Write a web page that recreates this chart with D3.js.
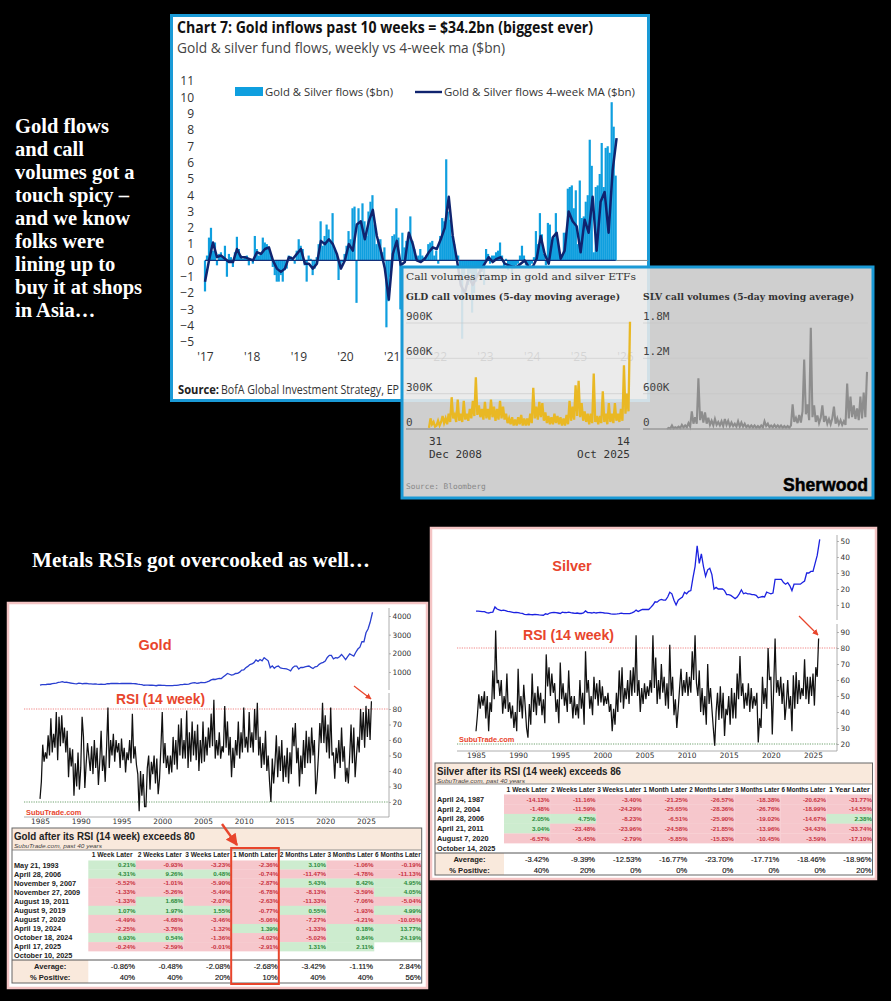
<!DOCTYPE html>
<html><head><meta charset="utf-8">
<style>html,body{margin:0;padding:0;background:#000}svg{display:block}</style>
<script src="https://cdn.jsdelivr.net/npm/d3@7/dist/d3.min.js"></script>
</head><body><svg id="c" width="891" height="1001"></svg>
<script>
// ---------- data: fund flows ($bn) ----------
const flowWeekly=[-1.9,.3,1.4,2,.6,1.1,-.3,.4,.5,.2,.9,-1,.4,.2,-.4,.5,1.45,.7,.3,.1,.2,.3,-.3,.1,-.2,1.5,.7,.3,.4,1.4,1.1,1,.7,.3,-.4,-.9,-1.3,-1.3,-.9,-1.3,-.6,-.5,.3,.25,.1,-.2,.6,1.3,.9,.7,-.3,-1.3,.3,.1,-.9,-.5,.2,1,2.4,.9,1.5,2.2,1.9,1.1,2.9,.7,.4,-1.2,-.3,-.1,.4,.9,1.8,1.3,3.2,3.3,-2.6,3.2,2.4,3.5,2.4,1.5,3,3.6,4,2.2,1,1.3,1.3,.5,.8,-4.1,-2.5,-1,1.5,1.6,3.2,1.4,-3,1.7,.8,1.2,1.5,2.7,1.2,.7,.2,.3,.7,.3,.2,.3,1,1.1,1.2,.3,.6,-.2,1.5,2.6,2.4,6.2,3,2.5,1.5,1,.3,.3,-.5,-4.8,-1,-.5,-1.5,-.8,-3.2,-2,-1.3,-.5,-1,-.7,-1.5,.7,.4,-.2,.3,.3,.5,.6,1.1,.3,-.4,.1,-.6,-.3,-.8,-.5,-.3,-.2,.3,.9,.3,-.3,-.4,-.3,-.2,.2,1.8,1,2.9,1.6,.4,-.3,2.3,2.2,1.2,1.4,2.9,1.2,.5,.3,1.7,1.7,4.4,4.5,4.6,3.2,4.3,1,4.9,2.6,2.7,3.6,4,7.4,5.8,.5,4.5,4.6,5.3,7.2,4.5,6.9,7,6.6,9.7,8.2,5.2];
const flowMA=[-1.3,0,1.1,.2,.3,.1,-.1,-.1,.7,.2,.2,.1,0,.5,.4,.7,.8,0,-.5,-.7,-.5,.2,.1,.4,.7,-.2,-.2,-.5,-.2,1.2,1,1.3,1,.4,-.5,0,1,.6,2.2,2.4,1.3,2.4,3.1,1.5,.6,-.5,-2.4,.4,1.2,-.3,-.1,1.7,1,0,-.1,.1,.5,.8,.7,1.3,2,3.9,1.5,.1,-1.5,-2,-1,-1.5,-1,-.6,-.2,.2,-.1,.1,.2,-.2,-.3,-.4,-.4,-.2,0,-.4,-.4,.1,1.5,.4,-.2,1.4,1.7,.1,.6,3,2.4,2.1,.5,2.5,1.7,3.9,.6,3.6,4.2,1.7,5.5,7.5];
const flowTicks=[-5,-4,-3,-2,-1,0,1,2,3,4,5,6,7,8,9,10,11];
const flowYears=[2017,2018,2019,2020,2021,2022,2023,2024,2025,2026];
// ---------- data: call volumes (thousands of contracts) ----------
const gldCalls=[10,90,40,60,20,30,70,30,60,110,50,90,40,130,60,270,90,120,60,250,70,130,60,240,80,130,70,170,90,240,110,440,120,200,100,170,80,230,90,170,80,250,100,190,70,170,80,240,90,190,80,130,50,90,40,100,30,80,30,100,40,120,30,90,30,90,30,130,50,350,90,190,80,230,100,220,70,140,50,110,40,100,40,130,50,110,40,100,30,90,30,120,40,240,70,190,80,370,110,410,100,220,70,150,60,130,40,130,50,470,60,110,40,110,50,320,60,130,40,220,60,130,50,220,70,130,60,170,70,540,130,300,150,910];
const slvCalls=[0,20,10,60,10,30,15,40,15,70,25,60,30,100,40,300,90,200,90,860,150,300,110,280,90,190,70,140,60,170,70,120,60,130,50,170,70,140,50,110,50,90,40,130,40,110,40,90,30,60,25,60,25,60,20,50,20,60,25,130,50,90,30,60,30,70,30,60,25,60,20,50,20,50,20,60,420,120,190,100,240,110,300,1180,250,420,150,1720,200,400,120,230,100,190,400,120,220,90,170,80,180,380,90,180,80,150,70,130,70,770,180,550,200,400,170,350,150,550,180,620,200,970];
const gldTicks=[0,300,600,900];
const slvTicks=[0,600,1200,1800];
// ---------- data: prices, quarterly from 1985 ----------
const goldPrice=[300,320,325,330,345,345,380,395,405,440,455,485,445,450,430,410,395,375,365,400,395,370,385,385,360,365,355,360,345,340,345,335,335,375,370,385,385,385,395,380,385,385,385,385,395,385,380,370,350,335,325,290,295,295,290,290,285,265,290,290,285,285,275,270,265,270,280,280,300,320,320,345,335,345,385,415,425,390,410,440,430,435,470,515,580,610,600,630,660,650,740,830,920,880,830,860,920,930,990,1100,1110,1230,1300,1400,1430,1500,1650,1570,1670,1600,1770,1680,1600,1230,1330,1200,1290,1320,1220,1190,1180,1170,1120,1060,1230,1320,1320,1160,1250,1240,1280,1300,1320,1250,1190,1280,1300,1410,1480,1520,1590,1780,1890,1890,1700,1770,1750,1820,1940,1810,1660,1820,1970,1910,1850,2060,2230,2330,2630,2620,3100,3300,3650,4200];
const silverPrice=[6.2,6.2,6,5.8,5.8,5.2,5,5.4,5.6,8.8,7.5,7,6.5,6.8,6.5,6,5.8,5.5,5.2,5.4,5.2,4.9,4.8,4.2,4,4.2,4,3.9,4.1,4,3.8,3.7,3.6,4.5,4.2,5,5.3,5.4,5.3,5,4.7,5.5,5.3,5.2,5.5,5.2,5,4.8,5,4.7,4.7,5,6.3,5.3,5.2,5,5.4,5,5.2,5.3,5.2,5,4.9,4.7,4.4,4.3,4.3,4.4,4.6,4.9,4.6,4.6,4.6,4.6,5.1,5.7,6.8,5.9,6.6,7.2,7.2,7.2,7.2,8.5,10,12,11.8,13,13.5,13,13,15,18,17,13,10,13,14,15,18,17,18.5,19,27,34,47,36,42,34,28,32,33,29,20,21,20,20,20,19,16.5,16.5,16,15,14,15,17,19.5,17,17.5,17,17,16.5,16.5,16,14.5,15,15.3,15,18,17.5,17,17.5,26,26,26,26,24,23,24,22,19,23,23,23,23,24,25,30,30,31,31,36,41,51];
// ---------- data: RSI (14 week), six readings a year from 1985 ----------
const goldRSI=[22,33,57,46,52,48,63,50,74,52,64,55,78,47,75,56,76,58,68,52,66,36,55,43,54,24,45,30,52,28,42,75,62,29,45,58,49,40,56,38,60,42,55,31,46,66,40,50,33,55,81,42,60,50,64,46,60,52,58,42,61,47,55,39,52,47,60,45,77,48,56,44,38,14,40,24,38,17,17,42,50,28,46,38,50,32,48,25,35,55,78,45,58,42,50,38,50,39,62,44,60,41,70,50,74,48,60,48,79,42,65,46,72,50,66,47,70,40,60,45,72,46,62,50,68,55,77,56,86,48,60,50,65,48,56,52,82,55,72,50,62,36,55,42,60,50,72,48,65,52,81,55,62,52,78,55,65,52,80,60,84,50,62,42,58,44,66,40,50,33,20,48,32,45,63,36,56,40,60,33,50,36,55,32,52,38,68,56,71,45,55,30,50,38,60,42,66,45,62,45,68,50,60,25,35,50,71,58,84,58,76,52,70,48,81,50,52,35,55,45,60,42,68,46,56,33,42,32,50,70,45,68,36,50,62,52,80,60,78,55,82,62,80,60,85];
const silverRSI=[28,38,51,42,50,44,53,36,50,28,46,40,66,48,91,58,60,50,60,39,50,42,64,40,46,36,44,30,40,28,67,40,50,36,57,44,30,24,45,32,64,40,52,38,56,44,52,38,48,33,76,56,68,50,64,52,58,40,48,33,71,48,58,44,52,40,66,45,50,36,50,38,45,36,60,42,52,32,78,52,60,42,50,38,62,48,58,44,60,46,56,44,50,45,52,40,45,28,42,32,52,40,66,46,68,42,55,48,60,45,66,50,68,52,88,50,60,40,55,45,58,48,56,50,60,52,88,55,74,45,60,48,70,52,62,44,58,42,82,50,62,38,48,30,42,55,67,50,60,52,65,50,62,52,78,60,88,58,50,66,40,55,38,50,32,70,45,55,42,30,19,40,52,35,56,36,52,25,42,38,50,32,55,36,52,36,64,48,75,50,58,42,52,44,58,40,55,42,50,44,52,21,36,30,62,45,55,42,80,60,62,26,55,86,52,60,50,62,45,58,35,45,60,42,50,28,63,42,65,45,60,48,55,50,73,48,62,45,62,50,64,44,68,62,86];
const yearTicks=[1985,1990,1995,2000,2005,2010,2015,2020,2025];
const goldPriceTicks=[1000,2000,3000,4000];
const silverPriceTicks=[10,20,30,40,50];
const rsiTicksGold=[20,30,40,50,60,70,80];
const rsiTicksSilver=[20,30,40,50,60,70,80,90];
// ---------- data: tables ----------
const goldCols=["1 Week Later","2 Weeks Later","3 Weeks Later","1 Month Later","2 Months Later","3 Months Later","6 Months Later"];
const goldDates=["May 21, 1993","April 28, 2006","November 9, 2007","November 27, 2009","August 19, 2011","August 9, 2019","August 7, 2020","April 19, 2024","October 18, 2024","April 17, 2025","October 10, 2025"];
const goldReturns=[[.21,-.93,-3.23,-2.36,3.10,-1.06,-.19],[4.31,9.26,.48,-.74,-11.47,-4.78,-11.13],[-5.52,-1.01,-5.90,-2.87,5.43,8.42,4.95],[-1.33,-5.26,-5.49,-6.78,-8.13,-3.59,4.05],[-1.33,1.68,-2.07,-2.63,-11.33,-7.06,-5.04],[1.07,1.97,1.55,-.77,.55,-1.93,4.99],[-4.49,-4.68,-3.46,-5.06,-7.27,-4.21,-10.05],[-2.25,-3.76,-1.32,1.39,-1.33,.18,13.77],[.93,.54,-1.36,-4.02,-5.02,.84,24.19],[-.24,-2.59,-.01,-2.91,1.31,2.11,null],[null,null,null,null,null,null,null]];
const goldAvg=[-.86,-.48,-2.08,-2.68,-3.42,-1.11,2.84];
const goldPos=[40,40,20,10,40,40,56];
const silverCols=["1 Week Later","2 Weeks Later","3 Weeks Later","1 Month Later","2 Months Later","3 Months Later","6 Months Later","1 Year Later"];
const silverDates=["April 24, 1987","April 2, 2004","April 28, 2006","April 21, 2011","August 7, 2020","October 14, 2025"];
const silverReturns=[[-14.13,-11.16,-3.40,-21.25,-26.57,-18.38,-20.62,-31.77],[-1.48,-11.59,-24.29,-25.65,-28.36,-26.76,-18.99,-14.55],[2.05,4.75,-8.23,-6.51,-25.90,-19.02,-14.67,2.38],[3.04,-23.48,-23.96,-24.58,-21.85,-13.96,-34.43,-33.74],[-6.57,-5.45,-2.79,-5.85,-15.83,-10.45,-3.59,-17.10],[null,null,null,null,null,null,null,null]];
const silverAvg=[-3.42,-9.39,-12.53,-16.77,-23.70,-17.71,-18.46,-18.96];
const silverPos=[40,20,0,0,0,0,0,20];
const introLines=["Gold flows","and call","volumes got a","touch spicy –","and we know","folks were","lining up to","buy it at shops","in Asia…"];

// ---------- drawing ----------
const svg=d3.select("#c");
const SANS="Liberation Sans, Arial, sans-serif", OPEN="'Open Sans', sans-serif",
      SERIF="Liberation Serif, serif", DSERIF="'DejaVu Serif', serif", MONO="'DejaVu Sans Mono', monospace";
const RED="#e8452c";
svg.append("rect").attr("width",891).attr("height",1001).attr("fill","#000");
const defs=svg.append("defs");
defs.append("marker").attr("id","ah").attr("viewBox","0 0 10 10").attr("refX",9).attr("refY",5)
  .attr("markerWidth",5).attr("markerHeight",5).attr("orient","auto")
  .append("path").attr("d","M0,0L10,5L0,10z").attr("fill",RED);
function T(g,x,y,s,o={}){
  const t=g.append("text").attr("x",x).attr("y",y).text(s)
    .attr("font-family",o.f||SANS).attr("font-size",o.s||10).attr("fill",o.c||"#000")
    .attr("font-weight",o.w||"normal").attr("text-anchor",o.a||"start");
  if(o.i)t.attr("font-style","italic");
  if(o.l)t.attr("textLength",o.l).attr("lengthAdjust","spacingAndGlyphs");
  return t;
}
// intro text
const intro=svg.append("g");
const introY=d3.scalePoint().domain(introLines).range([133,317]);
introLines.forEach(s=>T(intro,15,introY(s),s,{f:SERIF,s:20.5,w:"bold",c:"#fff"}));
T(intro,32,567,"Metals RSIs got overcooked as well…",{f:SERIF,s:20.5,w:"bold",c:"#fff",l:338});

// ---- Panel 1: BofA
const p1=svg.append("g");
p1.append("rect").attr("x",171.5).attr("y",15.5).attr("width",477).attr("height",385).attr("fill","#fff").attr("stroke","#1a9ad6").attr("stroke-width",3);
T(p1,177,33,"Chart 7: Gold inflows past 10 weeks = $34.2bn (biggest ever)",{f:OPEN,s:16,w:700,c:"#111",l:416});
T(p1,177,53,"Gold & silver fund flows, weekly vs 4-week ma ($bn)",{f:OPEN,s:14,c:"#444",l:328});
const fx=d3.scaleLinear().domain([2017,2026]).range([205,625]);
const fy=d3.scaleLinear().domain([-5,11]).range([342,81]);
const fIdx=d3.scaleLinear().domain([0,flowWeekly.length-1]).range([2017,2025.8]);
const mIdx=d3.scaleLinear().domain([0,flowMA.length-1]).range([2017,2025.82]);
p1.append("line").attr("x1",fx(2017)).attr("x2",648).attr("y1",fy(0)).attr("y2",fy(0)).attr("stroke","#888");
p1.append("g").selectAll("rect").data(flowWeekly).join("rect")
  .attr("x",(d,i)=>fx(fIdx(i))-1.1).attr("width",2.2)
  .attr("y",d=>Math.min(fy(d),fy(0))).attr("height",d=>Math.abs(fy(d)-fy(0))).attr("fill","#0f9fdf");
p1.append("line").attr("x1",fx(2017)).attr("x2",fx(2025.8)).attr("y1",fy(0)).attr("y2",fy(0)).attr("stroke","#12307a").attr("stroke-width",1.2);
p1.append("path").datum(flowMA).attr("fill","none").attr("stroke","#10246f").attr("stroke-width",2.5)
  .attr("stroke-linejoin","round").attr("d",d3.line().x((d,i)=>fx(mIdx(i))).y(d=>fy(d)));
const fAxis=p1.append("g").attr("transform","translate(194,0)").call(d3.axisLeft(fy).tickValues(flowTicks).tickSize(0).tickPadding(0).tickFormat(d3.format("d")));
fAxis.select(".domain").remove();
fAxis.selectAll("text").attr("font-family",OPEN).attr("font-size",12).attr("fill","#333");
const fxAxis=p1.append("g").attr("transform","translate(0,352)").call(d3.axisBottom(fx).tickValues(flowYears).tickSize(0).tickPadding(0).tickFormat(d=>"'"+String(d).slice(2)));
fxAxis.select(".domain").remove();
fxAxis.selectAll("text").attr("font-family",OPEN).attr("font-size",12).attr("fill","#333");
p1.append("rect").attr("x",235).attr("y",87).attr("width",28).attr("height",9).attr("fill","#0f9fdf");
T(p1,265,96,"Gold & Silver flows ($bn)",{f:OPEN,s:11.5,c:"#333",l:128});
p1.append("line").attr("x1",415).attr("x2",442).attr("y1",92).attr("y2",92).attr("stroke","#10246f").attr("stroke-width",2.4);
T(p1,444,96,"Gold & Silver flows 4-week MA ($bn)",{f:OPEN,s:11.5,c:"#333",l:191});
T(p1,178,394,"Source:",{f:OPEN,s:13,w:700,c:"#222",l:41});
T(p1,221,394,"BofA Global Investment Strategy, EP",{f:OPEN,s:13,c:"#333",l:178});

// ---- Panel 2: Sherwood
const p2=svg.append("g");
p2.append("rect").attr("x",402).attr("y",267).attr("width",471).attr("height",231).attr("fill","rgba(232,232,232,.89)");
p2.append("rect").attr("x",402).attr("y",267).attr("width",471).attr("height",231).attr("fill","none").attr("stroke","#1a9ad6").attr("stroke-width",3);
T(p2,406,280,"Call volumes ramp in gold and silver ETFs",{f:DSERIF,s:10,c:"#333",l:230});
T(p2,406,300,"GLD call volumes (5-day moving average)",{f:DSERIF,s:9,w:700,c:"#333",l:214});
T(p2,643,300,"SLV call volumes (5-day moving average)",{f:DSERIF,s:9,w:700,c:"#333",l:211});
const gy=d3.scaleLinear().domain([0,900]).range([429,323]);
const sy=d3.scaleLinear().domain([0,1800]).range([429,323]);
const gx=d3.scaleLinear().domain([0,gldCalls.length-1]).range([429,630]);
const sx=d3.scaleLinear().domain([0,slvCalls.length-1]).range([667,867]);
gldTicks.slice(1).forEach(v=>p2.append("line").attr("x1",406).attr("x2",630).attr("y1",gy(v)).attr("y2",gy(v)).attr("stroke","#c6c6c6").attr("stroke-width",.6));
slvTicks.slice(1).forEach(v=>p2.append("line").attr("x1",643).attr("x2",868).attr("y1",sy(v)).attr("y2",sy(v)).attr("stroke","#c6c6c6").attr("stroke-width",.6));
p2.append("path").datum(gldCalls).attr("fill","none").attr("stroke","#e9b824").attr("stroke-width",2.3).attr("d",d3.line().x((d,i)=>gx(i)).y(d=>gy(d)));
p2.append("path").datum(slvCalls).attr("fill","none").attr("stroke","#8d8d8d").attr("stroke-width",2.1).attr("d",d3.line().x((d,i)=>sx(i)).y(d=>sy(d)));
p2.append("line").attr("x1",406).attr("x2",630).attr("y1",429).attr("y2",429).attr("stroke","#9a9a9a").attr("stroke-width",1.5);
p2.append("line").attr("x1",643).attr("x2",868).attr("y1",429).attr("y2",429).attr("stroke","#9a9a9a").attr("stroke-width",1.5);
const kFmt=v=>v===0?"0":v+"K", mFmt=v=>v===0?"0":(v>=1200||v===1800?(v/1000).toFixed(1)+"M":v+"K");
gldTicks.forEach(v=>T(p2,406,gy(v)-3,kFmt(v),{f:MONO,s:11,c:"#444"}));
slvTicks.forEach(v=>T(p2,643,sy(v)-3,mFmt(v),{f:MONO,s:11,c:"#444"}));
T(p2,429,445,"31",{f:MONO,s:11,c:"#333"});
T(p2,429,458,"Dec 2008",{f:MONO,s:11,c:"#333"});
T(p2,630,445,"14",{f:MONO,s:11,c:"#333",a:"end"});
T(p2,630,458,"Oct 2025",{f:MONO,s:11,c:"#333",a:"end"});
T(p2,406,489,"Source: Bloomberg",{f:MONO,s:7.8,c:"#888"});
T(p2,783,491,"Sherwood",{f:SANS,s:19,w:700,c:"#000",l:85}).attr("stroke","#000").attr("stroke-width",.5);

// ---- RSI + price panels
function rsiPanel(cfg){
  const g=svg.append("g");
  g.append("rect").attr("x",cfg.box[0]).attr("y",cfg.box[1]).attr("width",cfg.box[2]).attr("height",cfg.box[3])
    .attr("fill","#fff").attr("stroke","#f4c4c4").attr("stroke-width",2.5);
  const x=d3.scaleLinear().domain([1985,2025]).range(cfg.xr);
  const yP=d3.scaleLinear().domain(cfg.pd).range(cfg.pr);
  const yR=d3.scaleLinear().domain([20,80]).range(cfg.rr);
  const ax=cfg.axisX, L=cfg.axisL;
  g.append("line").attr("x1",L).attr("x2",ax).attr("y1",yR(80)).attr("y2",yR(80)).attr("stroke","#e66").attr("stroke-width",.8).attr("stroke-dasharray","1.2 1.2");
  g.append("line").attr("x1",L).attr("x2",ax).attr("y1",yR(20)).attr("y2",yR(20)).attr("stroke","#4a8a4a").attr("stroke-width",.8).attr("stroke-dasharray","1.2 1.2");
  g.append("path").datum(cfg.price).attr("fill","none").attr("stroke",cfg.pc).attr("stroke-width",1.3)
    .attr("d",d3.line().x((d,i)=>x(1985+i/4+(i===cfg.price.length-1?.05:0))).y(d=>yP(d)));
  g.append("path").datum(cfg.rsi).attr("fill","none").attr("stroke","#111").attr("stroke-width",1.25)
    .attr("d",d3.line().x((d,i)=>x(1985+i/6)).y(d=>yR(d)));
  const styleAxis=a=>{a.selectAll("text").attr("font-family","'DejaVu Sans',sans-serif").attr("font-size",7.4).attr("fill","#333");
    a.selectAll("line").attr("stroke","#888").attr("stroke-width",.6);a.select(".domain").attr("stroke","#999").attr("stroke-width",.8);};
  const a1=g.append("g").attr("transform",`translate(${ax},0)`).call(d3.axisRight(yP).tickValues(cfg.pt).tickSize(2).tickPadding(1.5).tickFormat(d3.format("d")));
  a1.select(".domain").attr("d",`M0,${cfg.pa[0]}V${cfg.pa[1]}`);styleAxis(a1);
  const a2=g.append("g").attr("transform",`translate(${ax},0)`).call(d3.axisRight(yR).tickValues(cfg.rt).tickSize(2).tickPadding(1.5).tickFormat(d3.format("d")));
  a2.select(".domain").attr("d",`M0,${cfg.ra[0]}V${cfg.ra[1]}`);styleAxis(a2);
  const a3=g.append("g").attr("transform",`translate(0,${cfg.ra[1]})`).call(d3.axisBottom(x).tickValues(yearTicks).tickSize(1).tickPadding(0.5).tickFormat(d3.format("d")));
  a3.select(".domain").attr("d",`M${L},0H${ax}`);styleAxis(a3);
  T(g,cfg.name[1],cfg.name[2],cfg.name[0],{s:14.5,c:RED,a:"middle"}).attr("font-weight",600);
  T(g,cfg.rsiL[0],cfg.rsiL[1],"RSI (14 week)",{s:14.5,c:RED,l:cfg.rsiL[2]}).attr("font-weight",600);
  T(g,cfg.sub[0],cfg.sub[1],"SubuTrade.com",{s:7.4,w:700,c:RED});
  g.append("line").attr("x1",cfg.arrow[0]).attr("y1",cfg.arrow[1]).attr("x2",cfg.arrow[2]).attr("y2",cfg.arrow[3]).attr("stroke",RED).attr("stroke-width",1.2).attr("marker-end","url(#ah)");
  return g;
}
function table(g,cfg){
  const fmt=v=>v.toFixed(2)+"%";
  const col=d3.scaleLinear().domain([0,cfg.cols.length]).range(cfg.cx);
  const [L,R]=[cfg.L,cfg.cx[1]];
  const row=d3.scaleLinear().domain([0,1]).range([cfg.r0,cfg.r0+cfg.rs]);
  g.append("rect").attr("x",L).attr("y",cfg.t[0]).attr("width",R-L).attr("height",cfg.t[1]-cfg.t[0]).attr("fill","#f9e9dc");
  g.append("rect").attr("x",L).attr("y",cfg.sep).attr("width",cfg.cx[0]-L).attr("height",cfg.bot-cfg.sep).attr("fill","#f9e9dc");
  T(g,L+2,cfg.t[0]+11.5,cfg.title,{s:10,w:700,c:"#222",l:cfg.titleW});
  T(g,L+2,cfg.t[0]+20,"SubuTrade.com, past 40 years",{s:6,c:"#444",i:true,l:88});
  cfg.cols.forEach((c,i)=>T(g,(col(i)+col(i+1))/2,cfg.hy+2,c,{s:6.4,w:700,c:"#222",a:"middle",l:Math.min(col(1)-col(0)-2,c.length*3.4)}));
  cfg.rows.forEach((r,j)=>{
    T(g,L+2,row(j)+2.6,cfg.dates[j],{s:7.3,w:700,c:"#222"});
    r.forEach((v,i)=>{ if(v===null)return;
      g.append("rect").attr("x",col(i)).attr("y",row(j)-cfg.rs/2).attr("width",col(i+1)-col(i)+.2).attr("height",cfg.rs+.2).attr("fill",v>=0?"#cdeccf":"#f6c7cc");
      T(g,col(i+1)-.5,row(j)+2.2,fmt(v),{s:6.2,w:700,c:v>=0?"#2c8a3a":"#c8323f",a:"end"});
    });
  });
  g.append("line").attr("x1",L).attr("x2",R).attr("y1",cfg.sep).attr("y2",cfg.sep).attr("stroke","#555").attr("stroke-width",1);
  T(g,(L+cfg.cx[0])/2,cfg.avgY+2.8,"Average:",{s:7.6,w:700,c:"#222",a:"middle"});
  T(g,(L+cfg.cx[0])/2,cfg.posY+2.8,"% Positive:",{s:7.6,w:700,c:"#222",a:"middle"});
  cfg.avg.forEach((v,i)=>T(g,col(i+1)-1,cfg.avgY+2.8,fmt(v),{s:7.6,c:"#111",a:"end"}).attr("stroke","#111").attr("stroke-width",.15));
  cfg.pos.forEach((v,i)=>T(g,col(i+1)-1,cfg.posY+2.8,v+"%",{s:7.6,c:"#111",a:"end"}).attr("stroke","#111").attr("stroke-width",.15));
  g.append("rect").attr("x",L).attr("y",cfg.t[0]).attr("width",R-L).attr("height",cfg.bot-cfg.t[0]).attr("fill","none").attr("stroke","#666").attr("stroke-width",1);
  g.append("line").attr("x1",L).attr("x2",R).attr("y1",cfg.t[1]).attr("y2",cfg.t[1]).attr("stroke","#777").attr("stroke-width",.8);
  return col;
}
const gP=rsiPanel({box:[8,603,419,385],xr:[40,366],pd:[1000,4000],pr:[672,616],rr:[802,709],axisX:389,axisL:24,pa:[608,690],ra:[693,817],
  price:goldPrice,rsi:goldRSI,pc:"#2a3fd0",pt:goldPriceTicks,rt:rsiTicksGold,name:["Gold",155,650],rsiL:[116,704,89],sub:[26,815],arrow:[354,686,371,699]});
const gCol=table(gP,{title:"Gold after its RSI (14 week) exceeds 80",titleW:181,cols:goldCols,dates:goldDates,rows:goldReturns,avg:goldAvg,pos:goldPos,
  L:12,cx:[88.3,421.7],t:[828,850],hy:855,r0:865,rs:9.07,sep:960,avgY:966,posY:977,bot:983});
gP.append("rect").attr("x",gCol(3)).attr("y",848).attr("width",gCol(4)-gCol(3)).attr("height",136).attr("fill","none").attr("stroke",RED).attr("stroke-width",2);
gP.append("line").attr("x1",222).attr("y1",824).attr("x2",237).attr("y2",845).attr("stroke",RED).attr("stroke-width",2.4).attr("marker-end","url(#ah)");

const sP=rsiPanel({box:[431,528,445,351],xr:[476,813],pd:[10,50],pr:[605,541],rr:[744,648],axisX:837,axisL:457,pa:[535,620],ra:[624,751],
  price:silverPrice,rsi:silverRSI,pc:"#1c22e0",pt:silverPriceTicks,rt:rsiTicksSilver,name:["Silver",572,571],rsiL:[523,640,91],sub:[459,742],arrow:[799,616,818,635]});
table(sP,{title:"Silver after its RSI (14 week) exceeds 86",titleW:184,cols:silverCols,dates:silverDates,rows:silverReturns,avg:silverAvg,pos:silverPos,
  L:435,cx:[504,872.5],t:[763,784],hy:790,r0:799.3,rs:9.75,sep:853,avgY:859,posY:870,bot:875});
</script></body></html>
